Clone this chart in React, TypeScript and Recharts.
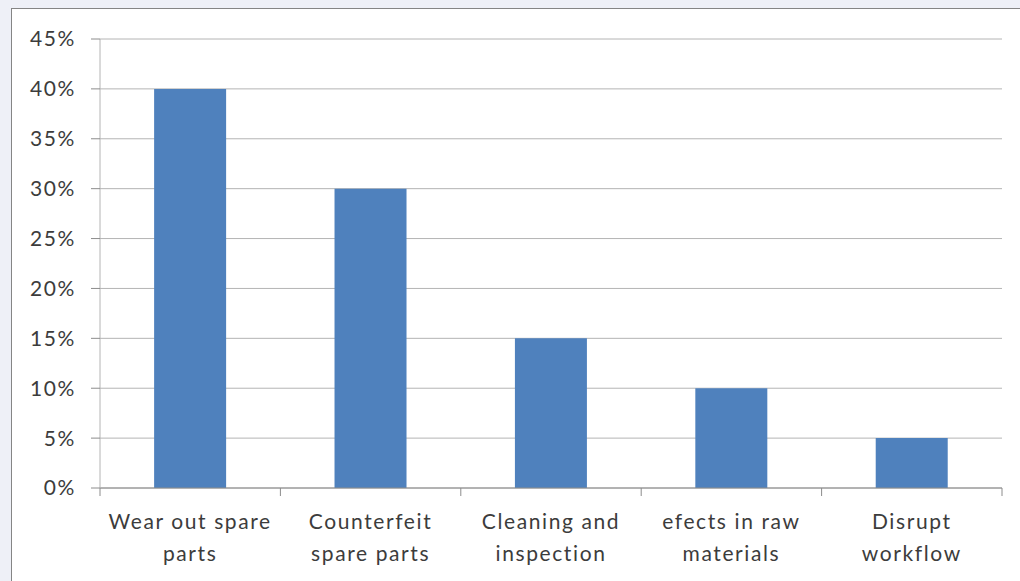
import React from 'react'
import { BarChart, Bar, XAxis, YAxis, CartesianGrid } from 'recharts'

// Chart data
const categories = [
    'Wear out spare parts',
    'Counterfeit spare parts',
    'Cleaning and inspection',
    'efects in raw materials',
    'Disrupt workflow',
]
const labelLines = [
    ['Wear out spare', 'parts'],
    ['Counterfeit', 'spare parts'],
    ['Cleaning and', 'inspection'],
    ['efects in raw', 'materials'],
    ['Disrupt', 'workflow'],
]
const shares = [0.4, 0.3, 0.15, 0.1, 0.05]
const yTicks = [0, 0.05, 0.1, 0.15, 0.2, 0.25, 0.3, 0.35, 0.4, 0.45]

const data = categories.map((name, i) => ({ name, value: shares[i] }))

const W = 1020
const H = 581
const MARGIN = { top: 39, right: 18, bottom: 13, left: 20 }
const Y_AXIS_W = 80
const PLOT_W = W - MARGIN.left - MARGIN.right - Y_AXIS_W
const HALF_BAND = PLOT_W / categories.length / 2

const FONT = 'Lato, "Open Sans", sans-serif'
const TEXT = '#3c3c3c'
const SPACING = 1.6

// Two-line category label plus tick marks at the band edges
function CategoryTick(props: any) {
    const { x, y, index } = props
    const lines = labelLines[index] || []
    return (
        <g>
            {index === 0 && (
                <line x1={x - HALF_BAND} x2={x - HALF_BAND} y1={y} y2={y + 8} stroke="#8c8c8c" />
            )}
            <line x1={x + HALF_BAND} x2={x + HALF_BAND} y1={y} y2={y + 8} stroke="#8c8c8c" />
            <text
                x={x}
                y={y}
                textAnchor="middle"
                fill={TEXT}
                fontFamily={FONT}
                fontSize={21}
                letterSpacing={SPACING}
            >
                {lines.map((l, i) => (
                    <tspan key={i} x={x} y={y + 41 + i * 32}>
                        {l}
                    </tspan>
                ))}
            </text>
        </g>
    )
}

export default function App() {
    return (
        <div style={{ position: 'fixed', left: 0, top: 0, width: W, height: H, background: '#eef0f7', overflow: 'hidden' }}>
            <div
                style={{
                    position: 'absolute',
                    left: 11,
                    top: 8,
                    width: W,
                    height: H,
                    background: '#ffffff',
                    borderLeft: '1.5px solid #858585',
                    borderTop: '1.5px solid #858585',
                }}
            />
            <div style={{ position: 'absolute', left: 0, top: 0 }}>
                <BarChart width={W} height={H} data={data} margin={MARGIN} barCategoryGap="30%">
                    <CartesianGrid vertical={false} stroke="#b4b4b4" strokeWidth={1} />
                    <XAxis
                        dataKey="name"
                        interval={0}
                        tickLine={false}
                        tickSize={0}
                        tickMargin={0}
                        height={80}
                        axisLine={{ stroke: '#8c8c8c', strokeWidth: 1 }}
                        tick={<CategoryTick />}
                    />
                    <YAxis
                        width={Y_AXIS_W}
                        domain={[0, 0.45]}
                        ticks={yTicks}
                        interval={0}
                        tickSize={9}
                        tickMargin={15}
                        tickFormatter={(v) => `${Math.round(v * 100)}%`}
                        axisLine={{ stroke: '#b4b4b4' }}
                        tickLine={{ stroke: '#8c8c8c' }}
                        tick={{ fill: TEXT, fontFamily: FONT, fontSize: 21, letterSpacing: SPACING }}
                    />
                    <Bar dataKey="value" fill="#4f81bd" isAnimationActive={false} />
                </BarChart>
            </div>
        </div>
    )
}
